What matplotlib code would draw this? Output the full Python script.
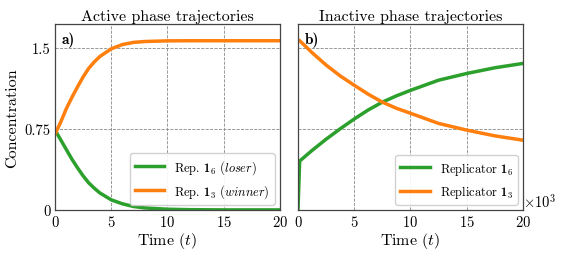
import matplotlib
matplotlib.use("Agg")
import matplotlib.pyplot as plt

plt.rcParams['font.family'] = 'serif'
plt.rcParams['font.serif'] = ['cmr10']
plt.rcParams['mathtext.fontset'] = 'custom'
plt.rcParams['mathtext.rm'] = 'cmr10'
plt.rcParams['mathtext.it'] = 'cmmi10'
plt.rcParams['mathtext.bf'] = 'cmb10'
plt.rcParams['axes.formatter.use_mathtext'] = True

# Active phase (left)
t_active = [0, 0.5, 1, 1.5, 2, 2.5, 3, 3.5, 4, 5, 6, 7, 8, 10, 12, 15, 20]
rep6_active = [0.74, 0.65, 0.56, 0.47, 0.39, 0.315, 0.25, 0.2, 0.156, 0.093, 0.056, 0.031, 0.018, 0.006, 0.002, 0.0, 0.0]
rep3_active = [0.70, 0.81, 0.935, 1.04, 1.137, 1.23, 1.31, 1.37, 1.42, 1.49, 1.53, 1.55, 1.558, 1.564, 1.565, 1.565, 1.565]

# Inactive phase (right), time in units of 10^3
t_inactive = [0, 0.15, 1.25, 2.5, 3.75, 5, 6.25, 7.5, 8.75, 10, 12.5, 15, 17.5, 20]
rep6_inactive = [0.0, 0.452, 0.55, 0.654, 0.75, 0.841, 0.925, 0.997, 1.055, 1.106, 1.2, 1.262, 1.315, 1.355]
rep3_inactive = [1.575, 1.565, 1.455, 1.34, 1.24, 1.153, 1.07, 0.997, 0.94, 0.894, 0.80, 0.738, 0.685, 0.645]

yticks = [0, 0.75, 1.5]
ytick_labels = ['0', '0.75', '1.5']
xticks = [0, 5, 10, 15, 20]

green = '#2ca02c'
orange = '#ff7f0e'

fig = plt.figure(figsize=(5.65, 2.55), dpi=100)
ax1 = fig.add_axes([0.0973, 0.173, 0.3982, 0.729])
ax2 = fig.add_axes([0.5274, 0.173, 0.3982, 0.729])

for ax in (ax1, ax2):
    ax.set_xlim(0, 20)
    ax.set_ylim(0, 1.72)
    ax.set_xticks(xticks)
    ax.set_yticks(yticks)
    ax.grid(True, linestyle='--', color='#888888', linewidth=0.6)
    ax.tick_params(length=0, labelsize=10.5, pad=3)
    for s in ax.spines.values():
        s.set_color('#444444')
        s.set_linewidth(0.9)
    ax.set_xlabel(r'Time ($t$)', fontsize=11.5, labelpad=1)

ax1.set_yticklabels(ytick_labels)
ax2.set_yticklabels([])

ax1.plot(t_active, rep6_active, color=green, lw=2.5, label=r'Rep. $\mathbf{1}_6$ ($\mathit{loser}$)')
ax1.plot(t_active, rep3_active, color=orange, lw=2.5, label=r'Rep. $\mathbf{1}_3$ ($\mathit{winner}$)')
ax2.plot(t_inactive, rep6_inactive, color=green, lw=2.5, label=r'Replicator $\mathbf{1}_6$')
ax2.plot(t_inactive, rep3_inactive, color=orange, lw=2.5, label=r'Replicator $\mathbf{1}_3$')

ax1.set_title('Active phase trajectories', fontsize=11.5, pad=3)
ax2.set_title('Inactive phase trajectories', fontsize=11.5, pad=3)
ax1.set_ylabel('Concentration', fontsize=11.5, labelpad=4)

ax1.text(0.03, 0.96, 'a)', family='cmb10', transform=ax1.transAxes, fontsize=11, va='top', ha='left')
ax2.text(0.03, 0.96, 'b)', family='cmb10', transform=ax2.transAxes, fontsize=11, va='top', ha='left')
ax2.text(1.0, 0.0, r'$\times10^3$', transform=ax2.transAxes, fontsize=10.5, va='bottom', ha='left')

for ax in (ax1, ax2):
    ax.legend(loc='lower right', fontsize=9, handlelength=2.35, framealpha=0.9,
              edgecolor='#cccccc', borderaxespad=0.4)

fig.savefig('out.png', dpi=100)
